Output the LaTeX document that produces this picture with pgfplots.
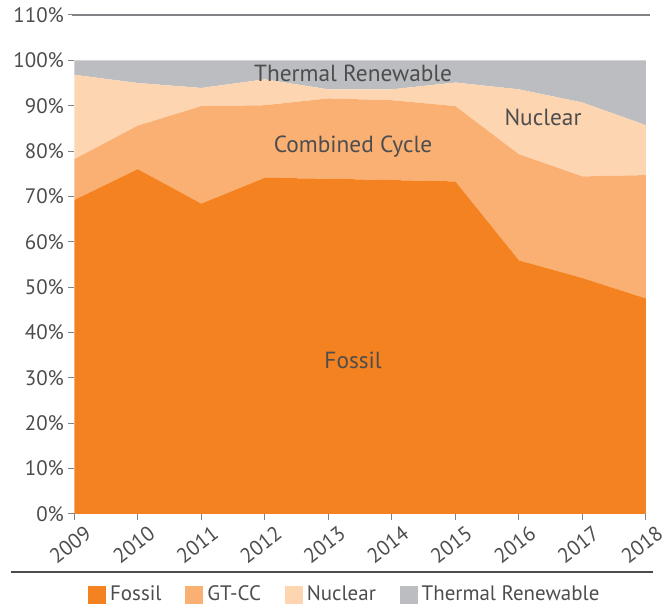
\documentclass[border=0pt]{standalone}
\usepackage{pgfplots}
\pgfplotsset{compat=1.18}
\usepackage{fontspec}
\setmainfont{PT Sans}
\definecolor{cFossil}{HTML}{F58220}
\definecolor{cGTCC}{HTML}{F9B072}
\definecolor{cNuc}{HTML}{FDD6B1}
\definecolor{cTR}{HTML}{BCBDC0}
\definecolor{txt}{HTML}{4D4D4F}
\definecolor{axc}{HTML}{808285}
\begin{document}
\begin{tikzpicture}
\begin{axis}[
  scale only axis, width=286.75pt, height=250.25pt,
  xmin=2009, xmax=2018, ymin=0, ymax=110,
  stack plots=y, clip=false,
  axis x line*=bottom, axis y line*=left,
  y axis line style={draw=none},
  x axis line style={draw=axc, line width=0.5pt},
  tick style={draw=axc, line width=0.5pt},
  tick align=outside, major tick length=3pt,
  xtick={2009,2010,...,2018},
  ytick={0,10,...,110},
  /pgf/number format/assume math mode=true,
  /pgf/number format/1000 sep={},
  yticklabel={\pgfmathprintnumber{\tick}\%},
  ticklabel style={font=\fontsize{10.5}{12}\selectfont, text=txt},
  xticklabel style={rotate=38, anchor=north east, inner sep=0.5pt, xshift=3pt, yshift=-4pt},
  yticklabel style={inner sep=2pt},
  legend style={at={(0.475,-0.162)}, anchor=center, draw=none, fill=none,
    legend columns=4, font=\fontsize{10.5}{12}\selectfont, text=txt,
    /tikz/every even column/.append style={column sep=10pt},
    inner sep=0pt},
  legend cell align=left,
  legend image code/.code={\path[#1, draw=none] (0pt,-4.5pt) rectangle (9pt,4.5pt);},
]
\addplot[fill=cFossil, draw=none] coordinates {
 (2009,69.2) (2010,76.0) (2011,68.4) (2012,74.1) (2013,73.9) (2014,73.6) (2015,73.3) (2016,55.9) (2017,52.0) (2018,47.5)} \closedcycle;
\addlegendentry{Fossil}
\addplot[fill=cGTCC, draw=none] coordinates {
 (2009,9.0) (2010,9.6) (2011,21.5) (2012,16.0) (2013,17.7) (2014,17.6) (2015,16.6) (2016,23.4) (2017,22.4) (2018,27.2)} \closedcycle;
\addlegendentry{GT-CC}
\addplot[fill=cNuc, draw=none] coordinates {
 (2009,18.6) (2010,9.4) (2011,4.0) (2012,5.7) (2013,2.0) (2014,2.4) (2015,5.2) (2016,14.3) (2017,16.3) (2018,11.0)} \closedcycle;
\addlegendentry{Nuclear}
\addplot[fill=cTR, draw=none] coordinates {
 (2009,3.2) (2010,5.0) (2011,6.1) (2012,4.2) (2013,6.4) (2014,6.4) (2015,4.9) (2016,6.4) (2017,9.3) (2018,14.3)} \closedcycle;
\addlegendentry{Thermal Renewable}
% top line at 110%
\draw[axc, line width=0.6pt] (axis description cs:-0.004,1) -- (axis description cs:1.007,1);
% separator line
\draw[txt, line width=0.8pt] (axis description cs:-0.1115,-0.116) -- (axis description cs:1.012,-0.116);
\coordinate (L1) at (axis cs:2013.39,97.1);
\coordinate (L2) at (axis cs:2013.39,80.9);
\coordinate (L3) at (axis cs:2016.38,87.5);
\coordinate (L4) at (axis cs:2013.39,33.8);
\path (axis description cs:-0.1299,-0.1858) rectangle (axis description cs:1.0314,1.030);
\end{axis}
\node[text=txt, font=\fontsize{11.7}{13}\selectfont] at (L1) {Thermal Renewable};
\node[text=txt, font=\fontsize{11.7}{13}\selectfont] at (L2) {Combined Cycle};
\node[text=txt, font=\fontsize{11.7}{13}\selectfont] at (L3) {Nuclear};
\node[text=txt, font=\fontsize{11.7}{13}\selectfont] at (L4) {Fossil};
\end{tikzpicture}
\end{document}
